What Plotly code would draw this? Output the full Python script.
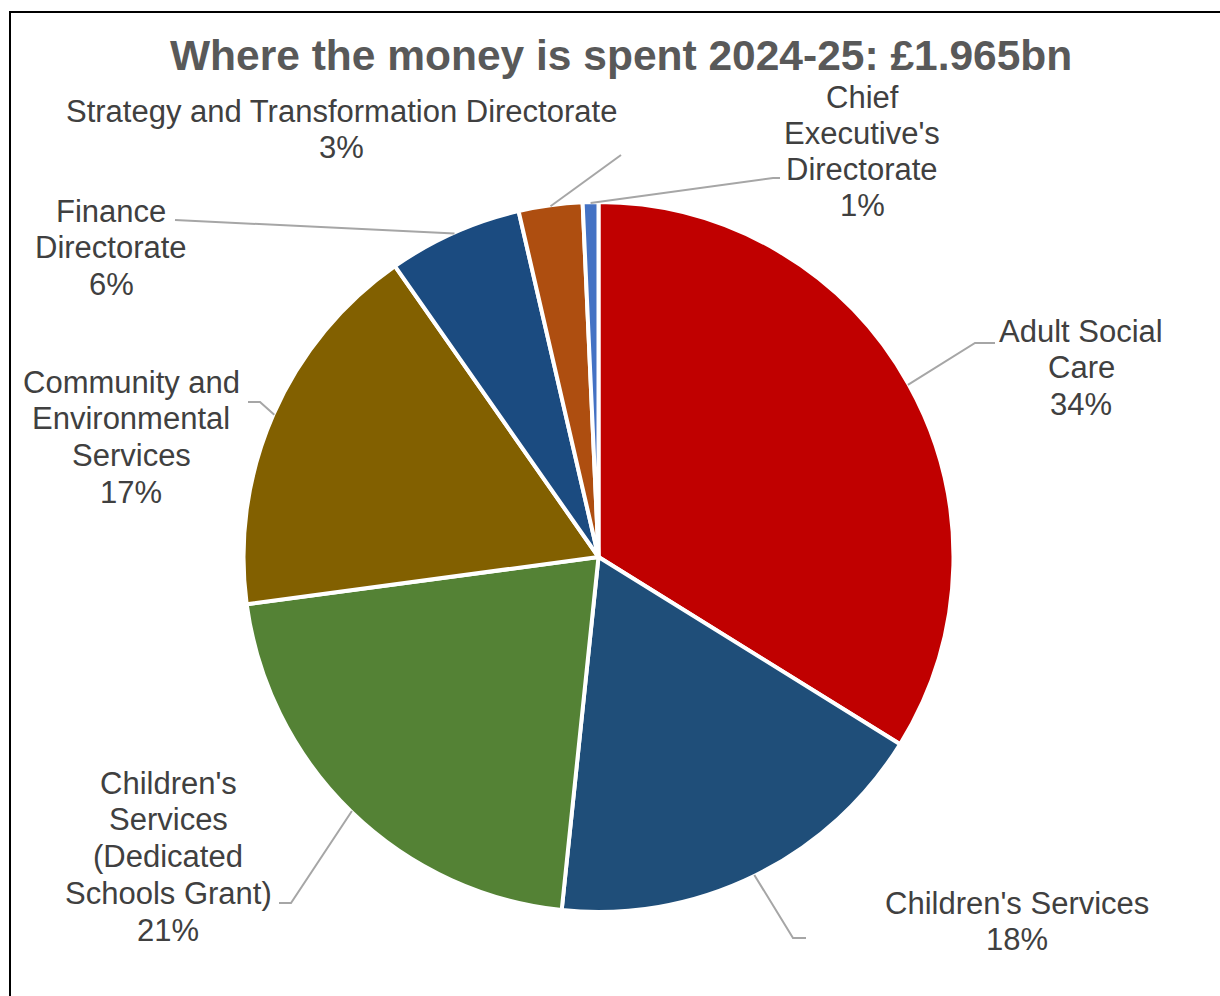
import numpy as np
import plotly.graph_objects as go

# Spend by directorate, £m (total £1.965bn)
directorates = [
    "Adult Social Care",
    "Children's Services",
    "Children's Services (Dedicated Schools Grant)",
    "Community and Environmental Services",
    "Finance Directorate",
    "Strategy and Transformation Directorate",
    "Chief Executive's Directorate",
]
spend_m = [665, 350, 417, 342, 120, 57, 14]

# How each label wraps onto lines
label_lines = [
    ["Adult Social", "Care"],
    ["Children's Services"],
    ["Children's", "Services", "(Dedicated", "Schools Grant)"],
    ["Community and", "Environmental", "Services"],
    ["Finance", "Directorate"],
    ["Strategy and Transformation Directorate"],
    ["Chief", "Executive's", "Directorate"],
]
slice_colors = ["#C00000", "#1F4E79", "#548235", "#826000",
                "#1B4B80", "#AE4E10", "#4472C4"]

W, H = 1220, 996
CX, CY, R = 598.5, 557.0, 355.0

# Label block placement (centre x, first line y, line gap) and leader-line bends
label_pos = [(1081, 331, 36.8), (1017, 903, 36.8), (168, 783, 36.8),
             (131, 382, 36.8), (111, 211, 36.8), (341, 111, 36.8),
             (862, 97, 36.0)]
leader_bends = [
    [(975, 343), (995, 343)],
    [(793, 938), (806, 938)],
    [(291, 903), (279, 903)],
    [(260, 402), (248, 402)],
    [(175, 220)],
    [(621, 155)],
    [(773, 178), (780, 178)],
]

fig = go.Figure()

fig.add_trace(go.Pie(
    labels=directorates,
    values=spend_m,
    sort=False,
    direction="clockwise",
    rotation=0,
    textinfo="none",
    hoverinfo="label+value+percent",
    marker=dict(colors=slice_colors, line=dict(color="white", width=4)),
    domain=dict(x=[(CX - R) / W, (CX + R) / W],
                y=[1 - (CY + R) / H, 1 - (CY - R) / H]),
    showlegend=False,
))

# Invisible pixel-space axes for the labels, leaders and frame
fig.add_trace(go.Scatter(x=[0, W], y=[0, H], mode="markers",
                         marker=dict(opacity=0), hoverinfo="skip",
                         showlegend=False))

total = float(np.sum(spend_m))
cum = np.cumsum(spend_m)
mid_frac = (cum - np.array(spend_m) / 2) / total
mid_angle = mid_frac * 2 * np.pi  # clockwise from 12 o'clock

shapes = []
annotations = []
for i, lines in enumerate(label_lines):
    pct = int(round(spend_m[i] / total * 100))
    all_lines = lines + [f"{pct}%"]
    lx, ly, gap = label_pos[i]
    for j, txt in enumerate(all_lines):
        annotations.append(dict(
            x=lx, y=ly + j * gap, xref="x", yref="y",
            text=txt, showarrow=False, xanchor="center", yanchor="middle",
            font=dict(family="Liberation Sans, Arial", size=31, color="#404040"),
        ))
    sx = CX + (R - 1) * np.sin(mid_angle[i])
    sy = CY - (R - 1) * np.cos(mid_angle[i])
    pts = [(sx, sy)] + leader_bends[i]
    path = "M " + " L ".join(f"{px:.1f},{py:.1f}" for px, py in pts)
    shapes.append(dict(type="path", path=path, xref="x", yref="y",
                       line=dict(color="#A6A6A6", width=2)))

# Chart frame
shapes.append(dict(type="rect", xref="x", yref="y", x0=10, y0=12, x1=W + 10, y1=H + 10,
                   line=dict(color="black", width=2), fillcolor="rgba(0,0,0,0)"))

annotations.append(dict(
    x=621, y=55, xref="x", yref="y", showarrow=False,
    text="<b>Where the money is spent 2024-25: £1.965bn</b>",
    xanchor="center", yanchor="middle",
    font=dict(family="Liberation Sans, Arial", size=42.5, color="#595959"),
))

fig.update_layout(
    width=W, height=H,
    margin=dict(l=0, r=0, t=0, b=0),
    paper_bgcolor="white", plot_bgcolor="rgba(0,0,0,0)",
    xaxis=dict(range=[0, W], visible=False, fixedrange=True),
    yaxis=dict(range=[H, 0], visible=False, fixedrange=True),
    shapes=shapes, annotations=annotations,
)

fig.write_html("out.html")
